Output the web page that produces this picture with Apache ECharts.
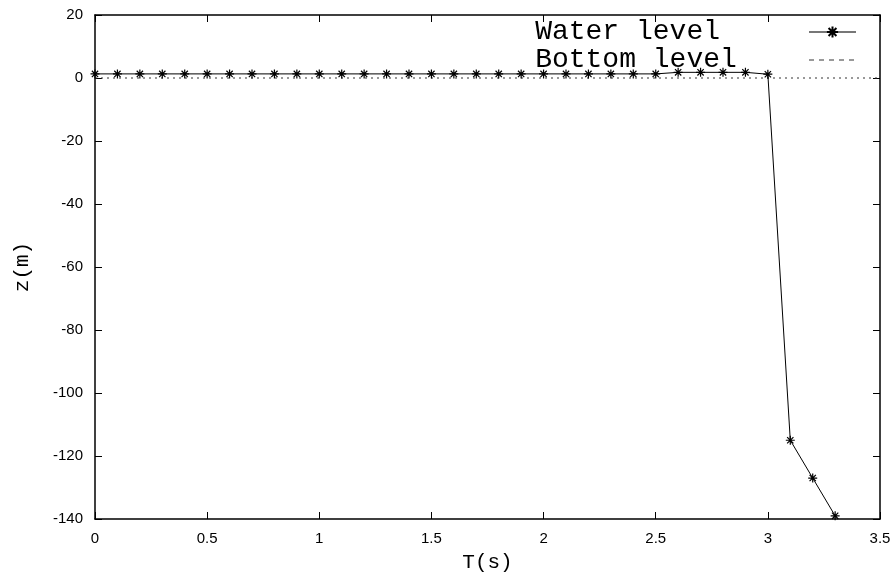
<!DOCTYPE html>
<html>
  <head>
    <meta charset="utf-8" />
    <title>Water level</title>
    <script src="https://cdn.jsdelivr.net/npm/echarts@6/dist/echarts.min.js"></script>
  </head>
  <body style="margin:0">
    <style>
      #main { width: 895px; height: 578px; background: #fff; }
    </style>
    <div id="main"></div>
    <script type="text/javascript">
      // values
      var times = [0, 0.1, 0.2, 0.3, 0.4, 0.5, 0.6, 0.7, 0.8, 0.9, 1.0, 1.1, 1.2, 1.3, 1.4, 1.5, 1.6, 1.7,
                   1.8, 1.9, 2.0, 2.1, 2.2, 2.3, 2.4, 2.5, 2.6, 2.7, 2.8, 2.9, 3.0, 3.1, 3.2, 3.3];
      var waterLevel = [1.3, 1.3, 1.3, 1.3, 1.3, 1.3, 1.3, 1.3, 1.3, 1.3, 1.3, 1.3, 1.3, 1.3, 1.3, 1.3, 1.3, 1.3,
                        1.3, 1.3, 1.3, 1.3, 1.3, 1.3, 1.3, 1.3, 1.8, 1.8, 1.8, 1.8, 1.2, -115, -127, -139];
      var bottomTimes = [0, 3.5];
      var bottomLevel = [0, 0];

      var star = 'path://M0,5L10,5M5,0L5,10M1.5,1.5L8.5,8.5M8.5,1.5L1.5,8.5';
      var mono = '"Liberation Mono", "DejaVu Sans Mono", monospace';
      var sans = '"Liberation Sans", Arial, sans-serif';

      var myChart = echarts.init(document.getElementById('main'));
      var option;

      var tickStyle = { inside: true, length: 7, lineStyle: { color: '#000', width: 1 } };

      option = {
        animation: false,
        backgroundColor: '#fff',
        legend: {
          orient: 'vertical',
          right: 33,
          top: 13,
          align: 'right',
          itemGap: 0,
          itemWidth: 47,
          itemHeight: 14,
          formatter: function (name) { return name.padEnd(16); },
          textStyle: { fontFamily: mono, fontSize: 28, color: '#000', lineHeight: 25 },
          data: [
            { name: 'Water level', lineStyle: { color: '#777' } },
            { name: 'Bottom level', itemStyle: { opacity: 0 }, lineStyle: { color: '#999', type: [5, 5] } }
          ]
        },
        grid: { left: 95, right: 15, top: 15, bottom: 57 },
        xAxis: [{
          type: 'value',
          min: 0,
          max: 3.5,
          interval: 0.5,
          name: 'T(s)',
          nameLocation: 'middle',
          nameGap: 33,
          nameTextStyle: { fontFamily: mono, fontSize: 21, color: '#000' },
          axisLine: { onZero: false, lineStyle: { color: '#000', width: 1.5 } },
          axisTick: tickStyle,
          axisLabel: { fontFamily: sans, fontSize: 15, color: '#000', margin: 12 },
          splitLine: { show: false }
        }, {
          type: 'value',
          position: 'top',
          min: 0,
          max: 3.5,
          interval: 0.5,
          axisLine: { onZero: false, lineStyle: { color: '#000', width: 1.5 } },
          axisTick: tickStyle,
          axisLabel: { show: false },
          splitLine: { show: false }
        }],
        yAxis: [{
          type: 'value',
          min: -140,
          max: 20,
          interval: 20,
          name: 'z(m)',
          nameLocation: 'middle',
          nameGap: 62,
          nameRotate: 90,
          nameTextStyle: { fontFamily: mono, fontSize: 21, color: '#000' },
          axisLine: { onZero: false, lineStyle: { color: '#000', width: 1.5 } },
          axisTick: tickStyle,
          axisLabel: { fontFamily: sans, fontSize: 15, color: '#000', margin: 12 },
          splitLine: { show: false }
        }, {
          type: 'value',
          position: 'right',
          min: -140,
          max: 20,
          interval: 20,
          axisLine: { onZero: false, lineStyle: { color: '#000', width: 1.5 } },
          axisTick: tickStyle,
          axisLabel: { show: false },
          splitLine: { show: false }
        }],
        series: [{
          name: 'Bottom level',
          type: 'line',
          data: bottomTimes.map(function (t, i) { return [t, bottomLevel[i]]; }),
          symbol: 'none',
          lineStyle: { color: '#333', width: 1, type: [2, 4] },
          itemStyle: { color: '#333' },
          z: 1
        }, {
          name: 'Water level',
          type: 'line',
          data: times.map(function (t, i) { return [t, waterLevel[i]]; }),
          symbol: star,
          symbolSize: 9,
          lineStyle: { color: '#000', width: 1 },
          itemStyle: { color: '#000', borderColor: '#000', borderWidth: 1.2 },
          z: 2
        }]
      };

      myChart.setOption(option);
    </script>
  </body>
</html>
